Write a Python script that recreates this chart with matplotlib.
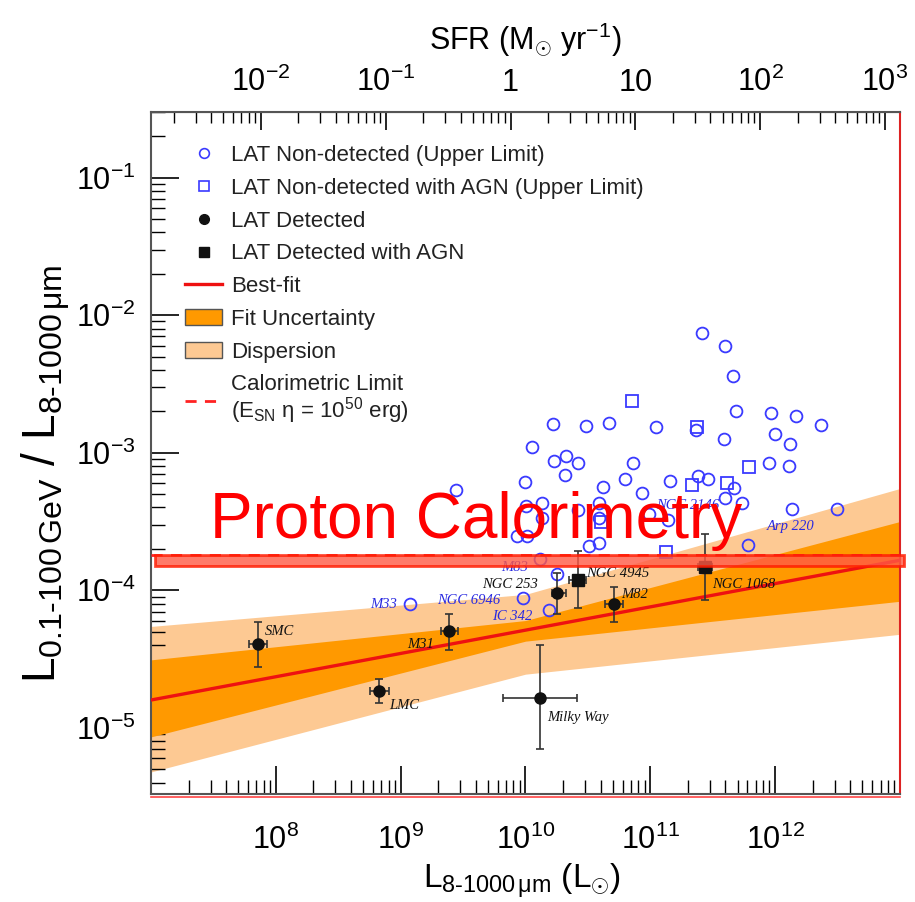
import numpy as np
import matplotlib.pyplot as plt
from matplotlib.lines import Line2D
from matplotlib.patches import Patch, Rectangle
from matplotlib.ticker import FixedLocator, FixedFormatter, LogLocator, NullFormatter

plt.rcParams['font.family'] = ['Liberation Sans', 'DejaVu Sans']
plt.rcParams['mathtext.fontset'] = 'custom'
plt.rcParams['mathtext.rm'] = 'Liberation Sans'
plt.rcParams['mathtext.it'] = 'Liberation Sans:italic'
plt.rcParams['mathtext.bf'] = 'Liberation Sans:bold'

# LAT detected galaxies (log10 values)
det_names = ['SMC', 'LMC', 'M31', 'Milky Way', 'NGC 253', 'M82']
det_logL = [7.858, 8.824, 9.390, 10.118, 10.250, 10.706]
det_logR = [-4.392, -4.732, -4.299, -4.781, -4.022, -4.100]
det_logR_lo = [-4.560, -4.818, -4.433, -5.151, -4.173, -4.231]
det_logR_hi = [-4.232, -4.642, -4.173, -4.401, -3.874, -3.976]
det_logL_lo = [7.784, 8.758, 9.320, 9.816, 10.214, 10.640]
det_logL_hi = [7.928, 8.904, 9.456, 10.416, 10.326, 10.784]

# LAT detected with AGN
agn_names = ['NGC 4945', 'NGC 1068']
agn_logL = [10.424, 11.434]
agn_logR = [-3.925, -3.830]
agn_logR_lo = [-4.131, -4.071]
agn_logR_hi = [-3.715, -3.588]
agn_logL_lo = [10.352, 11.384]
agn_logL_hi = [10.488, 11.496]

# LAT non-detected upper limits
ul_logL = [11.410, 11.602, 11.666, 11.690, 11.968, 12.170, 12.366, 10.218, 10.482,
           10.672, 11.046, 11.366, 11.594, 11.998, 12.118, 10.050, 10.322, 10.232,
           10.418, 10.862, 11.952, 12.112, 10.318, 10.798, 11.154, 11.382, 11.464,
           9.998, 10.622, 10.930, 11.674, 11.598, 11.736, 10.134, 10.006, 10.586,
           10.134, 10.424, 10.586, 10.992, 11.144, 12.138, 12.494, 9.930, 10.010,
           10.506, 10.592, 11.784, 10.120, 10.254, 9.978, 10.186, 9.072, 9.440]
ul_logR = [-2.129, -2.224, -2.443, -2.696, -2.713, -2.730, -2.798, -2.790, -2.803,
           -2.786, -2.815, -2.832, -2.903, -2.866, -2.939, -2.956, -3.027, -3.061,
           -3.073, -3.075, -3.078, -3.100, -3.163, -3.190, -3.207, -3.170, -3.190,
           -3.214, -3.248, -3.292, -3.258, -3.328, -3.363, -3.365, -3.385, -3.363,
           -3.472, -3.418, -3.472, -3.447, -3.489, -3.409, -3.409, -3.606, -3.606,
           -3.679, -3.659, -3.672, -3.776, -3.881, -4.056, -4.146, -4.100, -3.272]

# LAT non-detected with AGN upper limits
ula_logL = [10.856, 11.374, 11.794, 11.330, 11.614, 10.606, 11.126]
ula_logR = [-2.626, -2.810, -3.104, -3.236, -3.217, -3.504, -3.723]

# best fit and bands (log10)
fit_logL = [7.0, 13.0]
fit_logR = [-4.798, -3.782]
band_logL = [7.0, 10.0, 13.0]
fit_unc_hi = [-4.506, -4.22, -3.50]
fit_unc_lo = [-5.066, -4.37, -4.08]
disp_hi = [-4.263, -4.03, -3.26]
disp_lo = [-5.321, -4.61, -4.32]
calor_limit = 1.79e-4

# galaxy labels: name, logL, logR, colour
labels = [('SMC', 7.912, -4.299, 'k'), ('LMC', 8.912, -4.839, 'k'),
          ('M31', 9.056, -4.394, 'k'), ('Milky Way', 10.176, -4.927, 'k'),
          ('NGC 253', 9.656, -3.956, 'k'), ('NGC 4945', 10.488, -3.876, 'k'),
          ('M82', 10.768, -4.029, 'k'), ('NGC 1068', 11.496, -3.956, 'k'),
          ('M33', 8.752, -4.102, 'b'), ('NGC 6946', 9.296, -4.073, 'b'),
          ('IC 342', 9.736, -4.190, 'b'), ('M83', 9.808, -3.832, 'b'),
          ('Arp 220', 11.936, -3.533, 'b'), ('NGC 2146', 11.048, -3.387, 'b')]

blue = '#3a3aff'
dark_or = '#ff9900'
light_or = '#fdc993'
sfr_factor = 10 ** -9.88

p = lambda a: 10 ** np.asarray(a)

fig = plt.figure(figsize=(9.15, 9.02), dpi=100)
ax = fig.add_axes([0.165, 0.1197, 0.8186, 0.7561])
ax.set_xscale('log')
ax.set_yscale('log')
ax.set_xlim(1e7, 1e13)
ax.set_ylim(3.3e-6, 0.3)

ax.fill_between(p(band_logL), p(disp_lo), p(disp_hi), color=light_or, lw=0, zorder=1)
ax.fill_between(p(band_logL), p(fit_unc_lo), p(fit_unc_hi), color=dark_or, lw=0, zorder=2)
ax.plot(p(fit_logL), p(fit_logR), color='#ee1111', lw=2.4, zorder=3)

ax.plot(p(ul_logL), p(ul_logR), 'o', ls='', mfc='none', mec=blue, ms=8.5, mew=1.3, zorder=4)
ax.plot(p(ula_logL), p(ula_logR), 's', ls='', mfc='none', mec=blue, ms=8.5, mew=1.3, zorder=4)

for L, R, Llo, Lhi, Rlo, Rhi, mk in [(det_logL, det_logR, det_logL_lo, det_logL_hi, det_logR_lo, det_logR_hi, 'o'),
                                     (agn_logL, agn_logR, agn_logL_lo, agn_logL_hi, agn_logR_lo, agn_logR_hi, 's')]:
    x, y = p(L), p(R)
    xerr = [x - p(Llo), p(Lhi) - x]
    yerr = [y - p(Rlo), p(Rhi) - y]
    ax.errorbar(x, y, xerr=xerr, yerr=yerr, fmt=mk, color='#111111', ms=8,
                ecolor='#333333', elinewidth=1.2, capsize=3, capthick=1.2, zorder=5)

for name, lx, ly, c in labels:
    ax.text(10 ** lx, 10 ** ly, name, color='#111111' if c == 'k' else '#2a2ae0',
            fontsize=10.5, family=['Liberation Serif'], style='italic',
            ha='left', va='center', zorder=6)

ax.axhline(calor_limit, color='#ff2222', ls='--', lw=2, dashes=(4, 3), zorder=6)

# highlight box and annotation
ax.add_patch(Rectangle((10 ** 7.032, 10 ** -3.825), 10 ** 13.03 - 10 ** 7.032,
                       10 ** -3.745 - 10 ** -3.825, facecolor='#ff5a45', alpha=0.8,
                       edgecolor='#ff1a00', lw=2, zorder=7, clip_on=False))
ax.text(10 ** 7.47, 10 ** -3.62, 'Proton Calorimetry', color='#ff0000', fontsize=46,
        ha='left', va='baseline', zorder=8)

# ticks
ax.tick_params(which='both', direction='in', right=False, top=False)
ax.tick_params(which='major', length=20, width=1.2, labelsize=22)
ax.tick_params(axis='x', which='major', pad=22)
ax.tick_params(axis='y', which='major', pad=11)
ax.tick_params(which='minor', length=10, width=1.0)
ax.xaxis.set_major_locator(FixedLocator([1e8, 1e9, 1e10, 1e11, 1e12]))
ax.xaxis.set_major_formatter(FixedFormatter([r'$10^{8}$', r'$10^{9}$', r'$10^{10}$',
                                             r'$10^{11}$', r'$10^{12}$']))
ax.xaxis.set_minor_locator(LogLocator(base=10, subs=np.arange(2, 10), numticks=20))
ax.xaxis.set_minor_formatter(NullFormatter())
ax.yaxis.set_major_locator(FixedLocator([1e-5, 1e-4, 1e-3, 1e-2, 1e-1]))
ax.yaxis.set_major_formatter(FixedFormatter([r'$10^{-5}$', r'$10^{-4}$', r'$10^{-3}$',
                                             r'$10^{-2}$', r'$10^{-1}$']))
ax.yaxis.set_minor_locator(LogLocator(base=10, subs=np.arange(2, 10), numticks=20))
ax.yaxis.set_minor_formatter(NullFormatter())

for s in ['left', 'top', 'bottom']:
    ax.spines[s].set_color('#555555')
    ax.spines[s].set_linewidth(1.5)
ax.spines['right'].set_color('#dd2222')
ax.spines['right'].set_linewidth(1.5)
ax.plot([0, 1], [-0.004, -0.004], transform=ax.transAxes, color='#ff4444', lw=1.2, clip_on=False)

sec = ax.secondary_xaxis('top', functions=(lambda L: L * sfr_factor, lambda s: s / sfr_factor))
sec.xaxis.set_major_locator(FixedLocator([1e-2, 1e-1, 1, 10, 1e2, 1e3]))
sec.xaxis.set_major_formatter(FixedFormatter([r'$10^{-2}$', r'$10^{-1}$', '1', '10',
                                              r'$10^{2}$', r'$10^{3}$']))
sec.xaxis.set_minor_locator(LogLocator(base=10, subs=np.arange(2, 10), numticks=20))
sec.xaxis.set_minor_formatter(NullFormatter())
sec.tick_params(which='both', direction='in')
sec.tick_params(which='major', length=13, width=1.2, labelsize=22, pad=10)
sec.tick_params(which='minor', length=8, width=1.0)
sec.spines['top'].set_color('#555555')
sec.set_xlabel(r'SFR (M$_{\odot}$ yr$^{-1}$)', fontsize=22, labelpad=12)

ax.set_xlabel('L$_{8\u20101000\\,\\mathrm{\\mu m}}$ (L$_{\\odot}$)', fontsize=24)
ax.xaxis.set_label_coords(0.495, -0.099)
ax.set_ylabel('L$_{0.1\u2010100\\,\\mathrm{GeV}}$ / L$_{8\u20101000\\,\\mathrm{\\mu m}}$',
              fontsize=33)
ax.yaxis.set_label_coords(-0.104, 0.469)

handles = [
    Line2D([], [], marker='o', ls='', mfc='none', mec=blue, ms=7, mew=1.2),
    Line2D([], [], marker='s', ls='', mfc='none', mec=blue, ms=7, mew=1.2),
    Line2D([], [], marker='o', ls='', color='#111111', ms=7),
    Line2D([], [], marker='s', ls='', color='#111111', ms=7),
    Line2D([], [], color='#ee1111', lw=2.4),
    Patch(facecolor=dark_or, edgecolor='#555555'),
    Patch(facecolor=light_or, edgecolor='#555555'),
    Line2D([], [], color='#ff2222', ls='--', lw=2, dashes=(4, 3)),
]
names = ['LAT Non-detected (Upper Limit)', 'LAT Non-detected with AGN (Upper Limit)',
         'LAT Detected', 'LAT Detected with AGN', 'Best-fit', 'Fit Uncertainty',
         'Dispersion', 'Calorimetric Limit\n(E$_{\\rm SN}$ \u03b7 = 10$^{50}$ erg)']
leg = ax.legend(handles, names, loc='upper left', bbox_to_anchor=(0.045, 0.9516),
                frameon=False, fontsize=16, handlelength=1.7, handletextpad=0.4,
                labelspacing=0.53, borderaxespad=0, borderpad=0)
for t in leg.get_texts():
    t.set_color('#222222')
leg.get_texts()[-1].set_linespacing(1.0)

fig.savefig('out.png', dpi=100)
